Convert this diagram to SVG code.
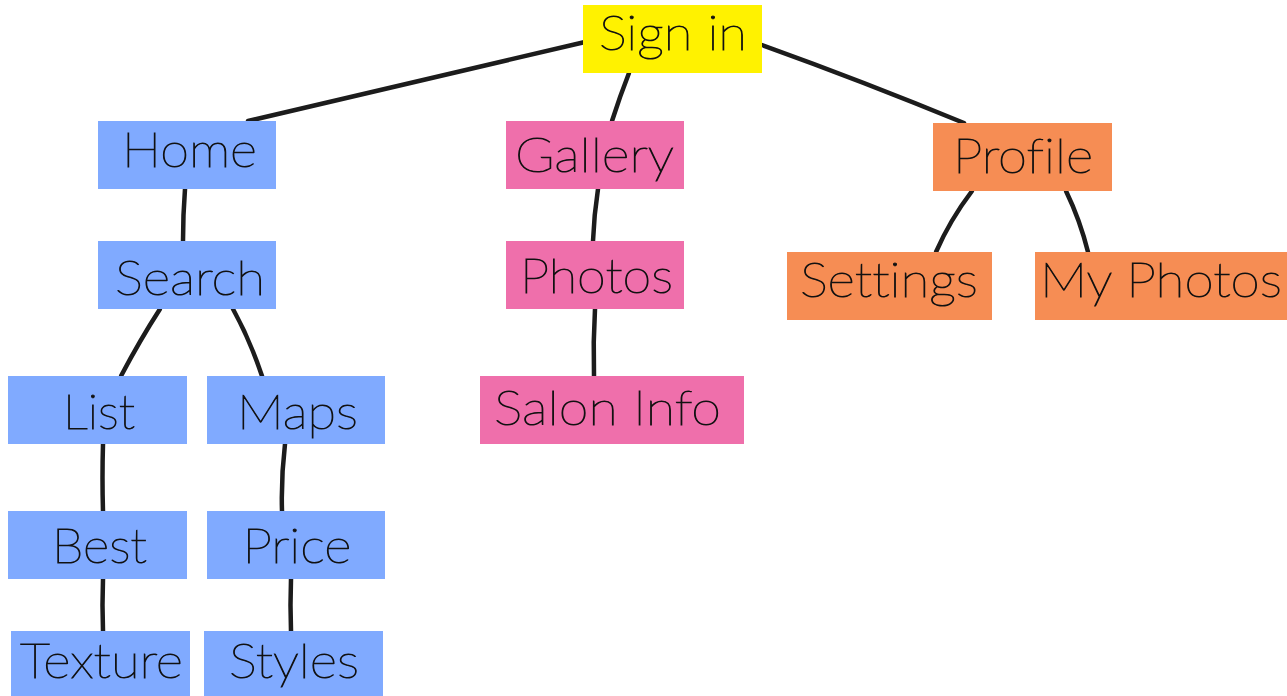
<svg xmlns="http://www.w3.org/2000/svg" width="1287" height="696" viewBox="0 0 1287 696">
<style>
.bg{fill:#ffffff}
.yel{fill:#FFF200}
.blu{fill:#80AAFF}
.pnk{fill:#EF6FAB}
.org{fill:#F68D54}
.lbl{font-family:"Lato","Open Sans","Liberation Sans",sans-serif;font-weight:200;font-size:48px;fill:#111111;stroke:#111111;stroke-width:1;text-anchor:middle;font-variant-ligatures:none}
.con{fill:none;stroke:#1c1c1c;stroke-width:4.5;stroke-linecap:round}
</style>
<rect class="bg" x="0" y="0" width="1287" height="696"/>
<g id="connectors">
<path class="con" d="M585,42 Q420,80 248,121"/>
<path class="con" d="M629,73 Q620,96 612,121"/>
<path class="con" d="M762,45 Q865,82 964,123"/>
<path class="con" d="M185,189 Q183,215 183,241"/>
<path class="con" d="M160,309 Q140,340 121,376"/>
<path class="con" d="M233,309 Q250,340 262,376"/>
<path class="con" d="M103,444 Q102,478 103,511"/>
<path class="con" d="M103,579 Q102,605 103,631"/>
<path class="con" d="M285,444 Q281,478 282,511"/>
<path class="con" d="M291,579 Q290,605 291,631"/>
<path class="con" d="M598,189 Q594,215 593,241"/>
<path class="con" d="M595,309 Q593,342 594,376"/>
<path class="con" d="M972,191 Q950,220 936,252"/>
<path class="con" d="M1066,191 Q1080,220 1088,252"/>
</g>
<g id="signin"><rect class="yel" x="583" y="5" width="179" height="68"/><text class="lbl" x="673" y="50" textLength="148" lengthAdjust="spacingAndGlyphs">Sign in</text></g>
<g id="home"><rect class="blu" x="98" y="121" width="178" height="68"/><text class="lbl" x="189.5" y="167" textLength="135" lengthAdjust="spacingAndGlyphs">Home</text></g>
<g id="search"><rect class="blu" x="98" y="241" width="178" height="68"/><text class="lbl" x="190" y="295" textLength="150" lengthAdjust="spacingAndGlyphs">Search</text></g>
<g id="list"><rect class="blu" x="8" y="376" width="179" height="68"/><text class="lbl" x="99" y="429" textLength="72" lengthAdjust="spacingAndGlyphs">List</text></g>
<g id="maps"><rect class="blu" x="207" y="376" width="178" height="68"/><text class="lbl" x="297.5" y="429" textLength="121" lengthAdjust="spacingAndGlyphs">Maps</text></g>
<g id="best"><rect class="blu" x="8" y="511" width="179" height="68"/><text class="lbl" x="99.5" y="563" textLength="95" lengthAdjust="spacingAndGlyphs">Best</text></g>
<g id="price"><rect class="blu" x="207" y="511" width="178" height="68"/><text class="lbl" x="297" y="563" textLength="109" lengthAdjust="spacingAndGlyphs">Price</text></g>
<g id="texture"><rect class="blu" x="11" y="631" width="179" height="65"/><text class="lbl" x="101.5" y="678" textLength="163" lengthAdjust="spacingAndGlyphs">Texture</text></g>
<g id="styles"><rect class="blu" x="204" y="631" width="179" height="65"/><text class="lbl" x="294" y="678" textLength="130" lengthAdjust="spacingAndGlyphs">Styles</text></g>
<g id="gallery"><rect class="pnk" x="506" y="121" width="178" height="68"/><text class="lbl" x="594.5" y="172" textLength="159" lengthAdjust="spacingAndGlyphs">Gallery</text></g>
<g id="photos"><rect class="pnk" x="506" y="241" width="178" height="68"/><text class="lbl" x="596.5" y="293" textLength="153" lengthAdjust="spacingAndGlyphs">Photos</text></g>
<g id="saloninfo"><rect class="pnk" x="480" y="376" width="264" height="68"/><text class="lbl" x="607.5" y="425" textLength="227" lengthAdjust="spacingAndGlyphs">Salon Info</text></g>
<g id="profile"><rect class="org" x="933" y="123" width="179" height="68"/><text class="lbl" x="1023" y="173" textLength="140" lengthAdjust="spacingAndGlyphs">Profile</text></g>
<g id="settings"><rect class="org" x="787" y="252" width="205" height="68"/><text class="lbl" x="889" y="297" textLength="178" lengthAdjust="spacingAndGlyphs">Settings</text></g>
<g id="myphotos"><rect class="org" x="1035" y="252" width="252" height="68"/><text class="lbl" x="1161" y="297" textLength="242" lengthAdjust="spacingAndGlyphs">My Photos</text></g>
</svg>
